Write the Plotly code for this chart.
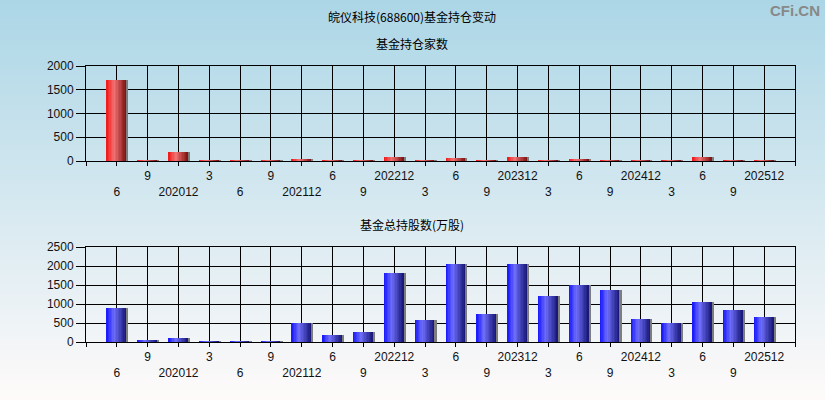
import plotly.graph_objects as go

# ---- data ----
periods = ["202006", "202009", "202012", "202103", "202106", "202109", "202112",
           "202206", "202209", "202212", "202303", "202306", "202309", "202312",
           "202403", "202406", "202409", "202412", "202503", "202506", "202509", "202512"]
tick_labels = ["6", "9", "202012", "3", "6", "9", "202112",
               "6", "9", "202212", "3", "6", "9", "202312",
               "3", "6", "9", "202412", "3", "6", "9", "202512"]
fund_count = [1712, 18, 195, 15, 15, 15, 45,
              15, 15, 88, 15, 65, 15, 90,
              15, 45, 15, 15, 15, 88, 15, 15]
fund_shares = [903, 30, 118, 25, 25, 25, 505,
               192, 270, 1822, 585, 2060, 742, 2060,
               1218, 1500, 1372, 612, 505, 1060, 850, 662]

main_title = "皖仪科技(688600)基金持仓变动"
sub_title1 = "基金持仓家数"
sub_title2 = "基金总持股数(万股)"
watermark = "CFi.CN"

W, H = 825, 400
xs = list(range(len(periods)))

# alternate tick labels between two rows
ticktext = [""] + [(t if i % 2 == 1 else "<br>" + t) for i, t in enumerate(tick_labels)] + [""]
tickvals = [-1] + xs + [len(xs)]


def lerp(c1, c2, t):
    return tuple(round(a + (b - a) * t) for a, b in zip(c1, c2))


def grad_color(stops, t):
    for (t0, c0), (t1, c1) in zip(stops, stops[1:]):
        if t0 <= t <= t1:
            return lerp(c0, c1, (t - t0) / (t1 - t0) if t1 > t0 else 0)
    return stops[-1][1]


red_stops = [(0, (240, 20, 20)), (0.38, (242, 115, 115)), (1, (125, 15, 15))]
blue_stops = [(0, (20, 20, 252)), (0.38, (110, 110, 250)), (1, (20, 20, 115))]

fig = go.Figure()

BW = 0.64
NS = 14
SH = 0.055


def add_bars(vals, stops, xaxis, yaxis):
    for i in range(NS):
        t = (i + 0.5) / NS
        c = grad_color(stops, t)
        fig.add_trace(go.Bar(
            x=xs, y=vals, xaxis=xaxis, yaxis=yaxis,
            width=BW / NS * 1.4, offset=-BW / 2 + i * BW / NS,
            marker=dict(color="rgb(%d,%d,%d)" % c, line=dict(width=0)),
            showlegend=False, hoverinfo="skip"))
    fig.add_trace(go.Bar(
        x=xs, y=vals, xaxis=xaxis, yaxis=yaxis,
        width=SH, offset=BW / 2,
        marker=dict(color="rgb(125,125,125)", line=dict(width=0)),
        showlegend=False, hoverinfo="skip"))


add_bars(fund_count, red_stops, "x", "y")
add_bars(fund_shares, blue_stops, "x2", "y2")

# background gradient bands
top_c = (172, 214, 230)
bot_c = (254, 250, 250)
shapes = []
NB = 80
for k in range(NB):
    c = lerp(top_c, bot_c, k / (NB - 1))
    shapes.append(dict(type="rect", xref="paper", yref="paper",
                       x0=0, x1=1, y0=1 - (k + 1) / NB - 0.002, y1=1 - k / NB,
                       fillcolor="rgb(%d,%d,%d)" % c, line=dict(width=0), layer="below"))

font_num = dict(family="Liberation Sans, Arial, sans-serif", size=12, color="#111")
font_cjk = dict(family="Noto Sans CJK SC, sans-serif", size=12, color="#000")

xcommon = dict(range=[-1, len(xs)], tickvals=tickvals, ticktext=ticktext,
               showgrid=True, gridcolor="black", gridwidth=1,
               showline=True, linecolor="black", linewidth=1, mirror=True,
               ticks="outside", ticklen=4, tickcolor="black", tickfont=font_num,
               zeroline=False, fixedrange=True, automargin=False)
ycommon = dict(showgrid=True, gridcolor="black", gridwidth=1,
               showline=True, linecolor="black", linewidth=1, mirror=True,
               ticks="outside", ticklen=9, tickcolor="black", tickfont=font_num,
               zeroline=False, dtick=500, fixedrange=True, automargin=False)

x0, x1 = 86 / W, 795 / W
fig.update_layout(
    width=W, height=H, autosize=False,
    margin=dict(l=0, r=0, t=0, b=0, pad=0, autoexpand=False),
    paper_bgcolor="rgb(254,250,250)", plot_bgcolor="rgba(0,0,0,0)",
    barmode="overlay", bargap=0,
    shapes=shapes,
    xaxis=dict(domain=[x0, x1], anchor="y", **xcommon),
    yaxis=dict(domain=[1 - 161 / H, 1 - 66 / H], range=[0, 2000], anchor="x", **ycommon),
    xaxis2=dict(domain=[x0, x1], anchor="y2", **xcommon),
    yaxis2=dict(domain=[1 - 342 / H, 1 - 247 / H], range=[0, 2500], anchor="x2", **ycommon),
    annotations=[
        dict(text=main_title, x=412 / W, y=1 - 17 / H, xref="paper", yref="paper",
             showarrow=False, font=font_cjk, xanchor="center", yanchor="middle"),
        dict(text=sub_title1, x=412 / W, y=1 - 43 / H, xref="paper", yref="paper",
             showarrow=False, font=font_cjk, xanchor="center", yanchor="middle"),
        dict(text=sub_title2, x=412 / W, y=1 - 224 / H, xref="paper", yref="paper",
             showarrow=False, font=font_cjk, xanchor="center", yanchor="middle"),
        dict(text="<b>" + watermark + "</b>", x=822 / W, y=1 - 10 / H, xref="paper", yref="paper",
             showarrow=False, xanchor="right", yanchor="middle",
             font=dict(family="Liberation Sans, Arial, sans-serif", size=15, color="#888")),
    ],
)

fig.write_html("out.html", config={"displayModeBar": False, "responsive": False})

# remove default page margins so the 825x400 figure fills the window
with open("out.html", encoding="utf-8") as f:
    html = f.read()
html = html.replace("<head>", "<head><style>html,body{margin:0;padding:0;overflow:hidden;}</style>", 1)
with open("out.html", "w", encoding="utf-8") as f:
    f.write(html)
